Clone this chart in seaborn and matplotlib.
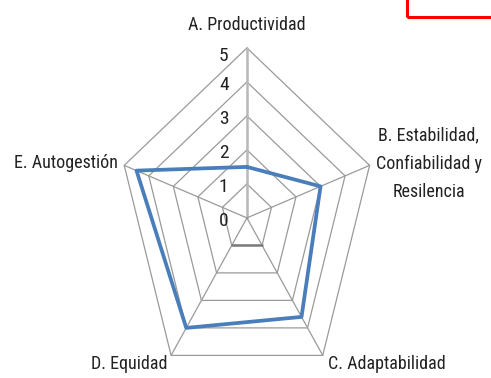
import numpy as np
import pandas as pd
import seaborn as sns
import matplotlib.pyplot as plt
from matplotlib import font_manager
from matplotlib.patches import Rectangle

categories = ["A. Productividad", "B. Estabilidad,\nConfiabilidad y\nResilencia",
              "C. Adaptabilidad", "D. Equidad", "E. Autogestión"]
values = [1.5, 3.0, 3.6, 4.0, 4.5]
levels = [0, 1, 2, 3, 4, 5]

sns.set_style("white")
names = {f.name for f in font_manager.fontManager.ttflist}
font = "Liberation Sans"
for cand in ["Roboto Condensed", "Open Sans Condensed", "Liberation Sans Narrow",
             "Noto Sans Condensed", "DejaVu Sans Condensed"]:
    if cand in names:
        font = cand
        break
plt.rcParams["font.family"] = [font, "DejaVu Sans"]

n = len(categories)
theta = np.pi / 2 - 2 * np.pi * np.arange(n) / n

fig = plt.figure(figsize=(4.91, 3.78), dpi=100)
ax = fig.add_axes([0, 0, 1, 1])
ax.set_xlim(-9.57, 9.46)
ax.set_ylim(-4.71, 6.41)

# pentagon grid
for lv in levels[1:]:
    gx = np.append(lv * np.cos(theta), lv * np.cos(theta[0]))
    gy = np.append(lv * np.sin(theta), lv * np.sin(theta[0]))
    ax.plot(gx, gy, color="#9a9a9a", lw=0.9, zorder=1)
for k, t in enumerate(theta):
    ax.plot([0, 5 * np.cos(t)], [0, 5 * np.sin(t)],
            color="#b8b8b8" if k == 0 else "#9a9a9a",
            lw=1.8 if k == 0 else 0.9, zorder=1)
# darker bottom edge of the innermost ring
ax.plot([np.cos(theta[2]), np.cos(theta[3])], [np.sin(theta[2]), np.sin(theta[3])],
        color="#7a7a7a", lw=1.8, zorder=2)

df = pd.DataFrame({
    "x": np.append(np.array(values) * np.cos(theta), values[0] * np.cos(theta[0])),
    "y": np.append(np.array(values) * np.sin(theta), values[0] * np.sin(theta[0])),
})
sns.lineplot(data=df, x="x", y="y", sort=False, color="#4a7ebb", lw=2.7,
             estimator=None, ax=ax, zorder=3)
ax.axis("off")

for lv in levels:
    ax.text(-0.9, lv - 0.1 if lv < 5 else 4.75, str(lv), ha="center", va="center",
            fontsize=14, color="#222222")

label_pos = [(0, 5.68, "center"), (7.05, 1.59, "center"), (3.15, -4.29, "left"),
             (-3.06, -4.29, "right"), (-5.0, 1.62, "right")]
for (lx, ly, ha), lab in zip(label_pos, categories):
    ax.text(lx, ly, lab, ha=ha, va="center", fontsize=13, color="#222222",
            linespacing=1.75)

fig.patches.append(Rectangle((407 / 491, 1 - 17 / 378), 0.3, 0.2, transform=fig.transFigure,
                             fill=False, edgecolor="red", lw=2.2, clip_on=False))
fig.savefig("out.png", dpi=100)
